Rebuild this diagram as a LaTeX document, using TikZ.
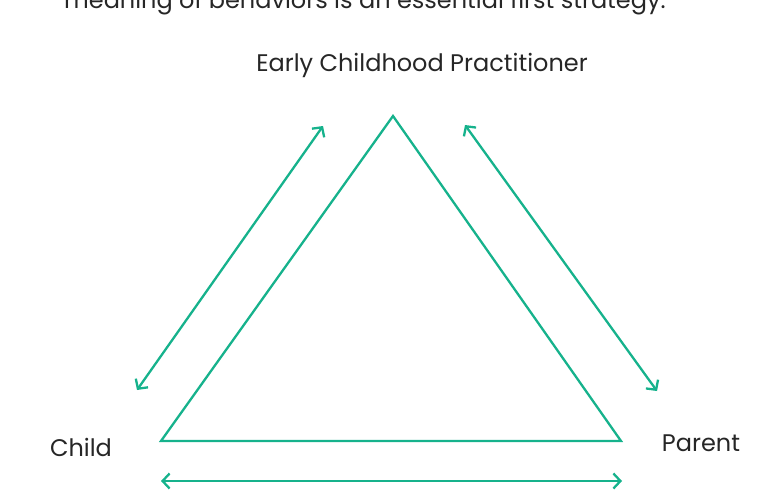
\documentclass[tikz,border=0pt]{standalone}
\usepackage{fontspec}
\setmainfont{Poppins}
\usetikzlibrary{arrows.meta}
\definecolor{relgreen}{RGB}{22,178,140}
\definecolor{labelgray}{RGB}{38,38,38}
\tikzset{>={Straight Barb[length=7pt,width=15pt]}}

\begin{document}
\begin{tikzpicture}[x=1pt,y=-1pt,line width=2.3pt,
    rel/.style={relgreen,line join=miter},
    who/.style={labelgray,font=\fontsize{24}{28}\selectfont,inner sep=0pt}]
  \useasboundingbox (0,0) rectangle (757,493);
  % cut-off line of text above the figure
  \node[who,anchor=base west] (intro) at (63,8) {meaning of behaviors is an essential first strategy.};
  % corners of the triangle
  \coordinate (apex) at (393,116);
  \coordinate (childc) at (161,441);
  \coordinate (parentc) at (621,441);
  \draw[rel] (apex) -- (childc) -- (parentc) -- cycle;
  % labels
  \node[who] (ecp) at (422,65) {Early Childhood Practitioner};
  \node[who] (child) at (81,447) {Child};
  \node[who] (parent) at (701,443) {Parent};
  % two-way relations
  \coordinate (lt) at (323,126); \coordinate (lb) at (137,390);
  \coordinate (rt) at (465,125); \coordinate (rb) at (657,391);
  \coordinate (bl) at (161,481); \coordinate (br) at (622,481);
  \draw[rel,<->] (lt) -- (lb);
  \draw[rel,<->] (rt) -- (rb);
  \draw[rel,<->] (bl) -- (br);
\end{tikzpicture}
\end{document}
